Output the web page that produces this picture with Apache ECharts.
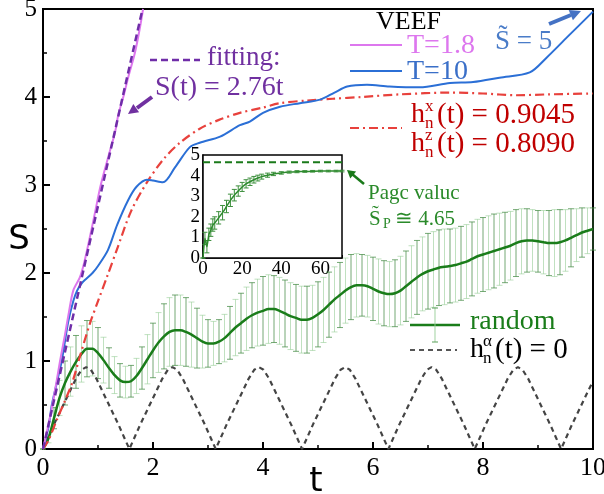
<!DOCTYPE html>
<html><head><meta charset="utf-8">
<script src="https://cdn.jsdelivr.net/npm/echarts@6/dist/echarts.min.js"></script>
<style>html,body{margin:0;padding:0;background:#fff}#c{width:604px;height:494px}</style>
</head><body><div id="c"></div>
<script>
// ---- data ----
const xTicks = [0,2,4,6,8,10];
const yTicks = [0,1,2,3,4,5];
const pinkT = [0,0.1,0.2,0.31,0.4,0.47,0.55,0.67,0.75,0.85,0.95,1.05,1.2,1.31,1.37,1.46,1.56,1.67,1.76,1.82];
const pinkS = [0,0.28,0.6,1.0,1.3,1.55,1.8,1.95,2.12,2.4,2.7,3.0,3.35,3.6,3.8,4.0,4.25,4.5,4.78,5.0];
const fitT = [0,1.81];
const fitS = [0,5];
const blueT = [0,0.1,0.16,0.25,0.34,0.46,0.55,0.62,0.7,0.76,0.9,1.0,1.18,1.35,1.55,1.7,1.89,2.0,2.18,2.4,2.67,2.85,3.22,3.58,3.76,4.0,4.31,4.67,5.04,5.3,5.53,5.89,6.3,6.85,7.4,7.82,8.3,8.85,9.16,9.53,10];
const blueS = [0,0.25,0.5,0.75,1.0,1.45,1.68,1.8,1.88,1.92,2.0,2.08,2.26,2.55,2.83,2.98,3.06,3.05,3.03,3.2,3.43,3.48,3.55,3.68,3.72,3.82,3.89,3.93,3.97,4.05,4.12,4.14,4.12,4.11,4.16,4.17,4.22,4.28,4.45,4.68,4.97];
const redT = [0,0.1,0.25,0.4,0.53,0.67,0.85,1.0,1.16,1.34,1.6,1.89,2.2,2.49,2.85,3.2,3.58,4.0,4.31,4.8,5.27,5.8,6.49,7.4,8.0,8.6,9.2,10];
const redS = [0,0.1,0.33,0.55,0.75,1.05,1.42,1.68,1.95,2.26,2.7,3.03,3.3,3.48,3.64,3.74,3.82,3.88,3.93,3.96,3.98,4.0,4.03,4.05,4.04,4.02,4.03,4.04];
const randT = [0,0.1,0.2,0.3,0.4,0.5,0.6,0.7,0.8,0.9,1.0,1.1,1.2,1.3,1.4,1.5,1.6,1.7,1.8,1.9,2.0,2.1,2.2,2.3,2.4,2.5,2.6,2.7,2.8,2.9,3.0,3.1,3.2,3.3,3.4,3.5,3.6,3.7,3.8,3.9,4.0,4.1,4.2,4.3,4.4,4.5,4.6,4.7,4.8,4.9,5.0,5.1,5.2,5.3,5.4,5.5,5.6,5.7,5.8,5.9,6.0,6.1,6.2,6.3,6.4,6.5,6.6,6.7,6.8,6.9,7.0,7.1,7.2,7.3,7.4,7.5,7.6,7.7,7.8,7.9,8.0,8.1,8.2,8.3,8.4,8.5,8.6,8.7,8.8,8.9,9.0,9.1,9.2,9.3,9.4,9.5,9.6,9.7,9.8,9.9,10];
const randS = [0,0.12,0.35,0.58,0.75,0.88,0.99,1.08,1.14,1.14,1.09,1.01,0.92,0.84,0.78,0.76,0.77,0.83,0.92,1.02,1.12,1.21,1.28,1.33,1.35,1.35,1.33,1.30,1.26,1.22,1.20,1.20,1.22,1.26,1.32,1.38,1.43,1.48,1.52,1.55,1.57,1.59,1.59,1.57,1.54,1.51,1.49,1.47,1.47,1.49,1.53,1.58,1.64,1.70,1.75,1.80,1.84,1.86,1.86,1.85,1.82,1.79,1.77,1.76,1.77,1.80,1.85,1.90,1.95,1.99,2.02,2.04,2.06,2.07,2.08,2.09,2.11,2.13,2.16,2.19,2.21,2.23,2.25,2.27,2.29,2.31,2.34,2.36,2.37,2.37,2.36,2.35,2.34,2.34,2.35,2.37,2.40,2.43,2.46,2.48,2.50];
const randErr = [0,0.05,0.12,0.2,0.25,0.28,0.3,0.32,0.32,0.31,0.29,0.26,0.23,0.21,0.19,0.18,0.18,0.2,0.24,0.28,0.31,0.34,0.37,0.39,0.4,0.4,0.39,0.37,0.34,0.3,0.27,0.25,0.25,0.27,0.3,0.32,0.34,0.36,0.37,0.38,0.39,0.39,0.38,0.38,0.38,0.38,0.38,0.38,0.38,0.37,0.37,0.37,0.37,0.37,0.37,0.37,0.37,0.36,0.35,0.35,0.36,0.37,0.37,0.37,0.38,0.39,0.4,0.41,0.42,0.42,0.43,0.43,0.43,0.43,0.42,0.42,0.42,0.42,0.42,0.42,0.42,0.42,0.42,0.41,0.4,0.39,0.38,0.37,0.36,0.35,0.35,0.36,0.37,0.38,0.37,0.35,0.33,0.30,0.28,0.26,0.24];
const grayT = [0,0.1,0.2,0.3,0.4,0.5,0.6,0.7,0.785,0.87,0.97,1.07,1.17,1.27,1.37,1.47,
1.57,1.67,1.77,1.87,1.97,2.07,2.17,2.27,2.355,2.44,2.54,2.64,2.74,2.84,2.94,3.04,
3.14,3.24,3.34,3.44,3.54,3.64,3.74,3.84,3.925,4.01,4.11,4.21,4.31,4.41,4.51,4.61,
4.71,4.81,4.91,5.01,5.11,5.21,5.31,5.41,5.495,5.58,5.68,5.78,5.88,5.98,6.08,6.18,
6.28,6.38,6.48,6.58,6.68,6.78,6.88,6.98,7.065,7.15,7.25,7.35,7.45,7.55,7.65,7.75,
7.85,7.95,8.05,8.15,8.25,8.35,8.45,8.55,8.635,8.72,8.82,8.92,9.02,9.12,9.22,9.32,
9.42,9.52,9.62,9.72,9.82,9.92,10];
const grayS = [0,0.14,0.28,0.41,0.54,0.67,0.80,0.90,0.93,0.90,0.80,0.67,0.54,0.41,0.28,0.14,
0,0.14,0.28,0.41,0.54,0.67,0.80,0.90,0.93,0.90,0.80,0.67,0.54,0.41,0.28,0.14,
0,0.14,0.28,0.41,0.54,0.67,0.80,0.90,0.93,0.90,0.80,0.67,0.54,0.41,0.28,0.14,
0,0.14,0.28,0.41,0.54,0.67,0.80,0.90,0.93,0.90,0.80,0.67,0.54,0.41,0.28,0.14,
0,0.14,0.28,0.41,0.54,0.67,0.80,0.90,0.93,0.90,0.80,0.67,0.54,0.41,0.28,0.14,
0,0.14,0.28,0.41,0.54,0.67,0.80,0.90,0.93,0.90,0.80,0.67,0.54,0.41,0.28,0.14,
0,0.14,0.28,0.41,0.54,0.67,0.77];
const insetT = [0,1,2,3,4,5,6,8,10,12,14,16,18,20,22,24,26,28,30,33,36,40,44,48,52,56,60,64,68,71];
const insetS = [0,0.95,0.55,1.15,1.35,1.6,1.7,1.95,2.2,2.5,2.8,3.05,3.25,3.45,3.6,3.7,3.8,3.88,3.95,4.02,4.08,4.13,4.17,4.19,4.2,4.21,4.22,4.22,4.22,4.22];
const insetErr = [0,0.3,0.3,0.3,0.3,0.3,0.3,0.3,0.35,0.3,0.3,0.28,0.25,0.22,0.2,0.18,0.16,0.14,0.12,0.1,0.08,0.06,0.05,0.05,0.04,0.04,0.04,0.04,0.04,0.04];
const insetXTicks = [0,20,40,60];
const pageValue = 4.65;
const insetXMax = 71;
const xName = 't';
const yName = 'S';

// ---- helpers ----
const zip = (a,b) => a.map((v,i)=>[v,b[i]]);
const errData = (t,s,e) => t.map((v,i)=>[v, s[i]-e[i], s[i]+e[i]]);
function errRender(colors, cap, lw){
  return function(params, api){
    const x = api.value(0), lo = api.value(1), hi = api.value(2);
    const a = api.coord([x,hi]), b = api.coord([x,lo]);
    const c = colors[params.dataIndex % colors.length];
    const st = {stroke:c, lineWidth:lw};
    return {type:'group', children:[
      {type:'line', shape:{x1:a[0],y1:a[1],x2:b[0],y2:b[1]}, style:st},
      {type:'line', shape:{x1:a[0]-cap,y1:a[1],x2:a[0]+cap,y2:a[1]}, style:st},
      {type:'line', shape:{x1:b[0]-cap,y1:b[1],x2:b[0]+cap,y2:b[1]}, style:st}
    ]};
  };
}
const SERIF = '"Liberation Serif", "Times New Roman", serif';
const f = (s) => s + 'px ' + SERIF;
function txt(text, x, y, size, color, align, family){
  return {type:'text', x:x, y:y, z:100, style:{text:text, font:size + 'px ' + (family || SERIF), fill:color, align:align||'left', verticalAlign:'middle'}};
}
function ln(x1,y1,x2,y2,color,w,dash){
  return {type:'line', z:100, shape:{x1,y1,x2,y2}, style:{stroke:color, lineWidth:w, lineDash:dash||null}};
}
function poly(pts,color){ return {type:'polygon', z:100, shape:{points:pts}, style:{fill:color}}; }

const chart = echarts.init(document.getElementById('c'));
const axisLbl = (size) => ({fontFamily:SERIF, fontSize:size, color:'#000'});

const option = {
  animation:false,
  backgroundColor:'#fff',
  grid:[
    {left:43, top:9, width:550, height:440, show:true, borderColor:'#000', borderWidth:2, backgroundColor:'transparent', outerBoundsMode:'none', containLabel:false},
    {left:203, top:155, width:139, height:103, show:true, borderColor:'#000', borderWidth:1.5, backgroundColor:'#fff', z:5, outerBoundsMode:'none', containLabel:false}
  ],
  xAxis:[
    {type:'value', gridIndex:0, min:xTicks[0], max:xTicks[xTicks.length-1], interval:2,
     axisLine:{lineStyle:{color:'#000', width:2}},
     axisTick:{inside:true, length:7, lineStyle:{width:2, color:'#000'}},
     minorTick:{show:true, splitNumber:2, length:4, lineStyle:{width:1.5, color:'#000'}},
     splitLine:{show:false}, minorSplitLine:{show:false},
     axisLabel:Object.assign(axisLbl(26), {margin:6})},
    {type:'value', gridIndex:1, min:0, max:insetXMax, interval:20,
     axisLine:{lineStyle:{color:'#000', width:1.5}},
     axisTick:{inside:true, length:3, lineStyle:{color:'#000'}},
     splitLine:{show:false},
     axisLabel:Object.assign(axisLbl(19), {margin:2, formatter:(v)=> insetXTicks.indexOf(v)>=0 ? String(v) : ''})}
  ],
  yAxis:[
    {type:'value', gridIndex:0, min:yTicks[0], max:yTicks[yTicks.length-1], interval:1,
     axisLine:{lineStyle:{color:'#000', width:2}},
     axisTick:{inside:true, length:7, lineStyle:{width:2, color:'#000'}},
     minorTick:{show:true, splitNumber:2, length:4, lineStyle:{width:1.5, color:'#000'}},
     splitLine:{show:false}, minorSplitLine:{show:false},
     axisLabel:Object.assign(axisLbl(25), {margin:6})},
    {type:'value', gridIndex:1, min:0, max:5, interval:1,
     axisLine:{lineStyle:{color:'#000', width:1.5}},
     axisTick:{inside:true, length:3, lineStyle:{color:'#000'}},
     splitLine:{show:false},
     axisLabel:Object.assign(axisLbl(19), {margin:3})}
  ],
  series:[
    {type:'custom', name:'randomErr', xAxisIndex:0, yAxisIndex:0, renderItem:errRender(['rgba(70,140,70,0.75)','rgba(150,205,150,0.6)'], 3, 1),
     data:errData(randT, randS, randErr), encode:{x:0, y:[1,2]}, z:1, silent:true},
    {type:'line', name:'h0', data:zip(grayT, grayS), showSymbol:false, lineStyle:{color:'#444', width:2.2, type:[5,4]}, z:2},
    {type:'line', name:'random', data:zip(randT, randS), showSymbol:false, smooth:0.3, lineStyle:{color:'#1a7d1a', width:2.5}, z:3},
    {type:'line', name:'hx', data:zip(redT, redS), showSymbol:false, smooth:0.3, lineStyle:{color:'#e8413c', width:2.2, type:[9,4,2,4]}, z:3},
    {type:'line', name:'T10', data:zip(blueT, blueS), showSymbol:false, smooth:0.3, lineStyle:{color:'#2b6fd6', width:2}, z:4},
    {type:'line', name:'T1.8', data:zip(pinkT, pinkS), showSymbol:false, smooth:0.3, lineStyle:{color:'#dd77ee', width:2}, z:4},
    {type:'line', name:'fit', data:zip(fitT, fitS), showSymbol:false, lineStyle:{color:'#6f2da8', width:2.5, type:[7,4]}, z:5},
    {type:'custom', name:'insetErr', xAxisIndex:1, yAxisIndex:1, renderItem:errRender(['#3d8f3d'], 2.5, 1),
     data:errData(insetT, insetS, insetErr), encode:{x:0, y:[1,2]}, z:10, silent:true},
    {type:'line', name:'inset', xAxisIndex:1, yAxisIndex:1, data:zip(insetT, insetS), showSymbol:false, smooth:0.2, lineStyle:{color:'#2e8b2e', width:1.5}, z:11},
    {type:'line', name:'page', xAxisIndex:1, yAxisIndex:1, data:[[0,pageValue],[insetXMax,pageValue]], showSymbol:false, lineStyle:{color:'#1a7a1a', width:2, type:[7,4]}, z:11}
  ],
  graphic:[
    txt(yName, 19, 240, 34, '#000', 'center', '"DejaVu Sans"'),
    txt(xName, 316, 482, 34, '#000', 'center', '"DejaVu Sans"'),
    txt('VEEF', 376, 22, 26, '#000'),
    ln(350,45,402,45,'#dd77ee',2), txt('T=1.8', 407, 46, 28, '#dd77ee'),
    ln(350,71,402,71,'#2b6fd6',2), txt('T=10', 407, 72, 28, '#3a6fc8'),
    txt('S\u0303 = 5', 495, 42, 27, '#4a7cc8'),
    ln(549,24,571,15,'#4472c4',4), poly([[581,11],[572.9,20.2],[568.7,10.0]],'#4472c4'),
    ln(350,128,402,128,'#e8413c',2,[9,4,2,4]),
    txt('h', 411, 115, 28, '#c00000'), txt('x', 425, 107, 17, '#c00000'), txt('n', 425, 124, 17, '#c00000'),
    txt('(t) = 0.9045', 437, 115, 29, '#c00000'),
    txt('h', 411, 144, 28, '#c00000'), txt('z', 425, 136, 17, '#c00000'), txt('n', 425, 153, 17, '#c00000'),
    txt('(t) = 0.8090', 437, 144, 29, '#c00000'),
    ln(150,60,200,60,'#6f2da8',2.5,[7,4]), txt('fitting:', 207, 58, 27, '#7030a0'),
    txt('S(t) = 2.76t', 155, 88, 28, '#7030a0'),
    ln(152,97,137,108,'#7030a0',4), poly([[128,114],[139.1,112.3],[133.3,104.1]],'#7030a0'),
    ln(364,184,352,174,'#1a7a1a',2.5), poly([[347,170],[356.1,171.6],[350.3,178.6]],'#1a7a1a'),
    txt('Pagc valuc', 368, 193, 21, '#2a8a2a'),
    txt('S\u0303', 369, 219, 21, '#2a8a2a'), txt('P', 383, 224, 14, '#2a8a2a'), txt('\u2245 4.65', 395, 219, 21, '#2a8a2a'),
    ln(410,325,460,325,'#1a7d1a',2.5),
    ln(435,308,435,342,'rgba(150,205,150,0.9)',1), ln(432,308,438,308,'#5aa05a',1), ln(432,342,438,342,'#5aa05a',1),
    txt('random', 470, 322, 28, '#1a7d1a'),
    ln(410,350,457,350,'#555',2,[5,4]),
    txt('h', 470, 350, 28, '#000'), txt('\u03b1', 483, 342, 17, '#000'), txt('n', 483, 359, 17, '#000'),
    txt('(t) = 0', 495, 350, 29, '#000')
  ]
};
chart.setOption(option);
</script>
</body></html>
